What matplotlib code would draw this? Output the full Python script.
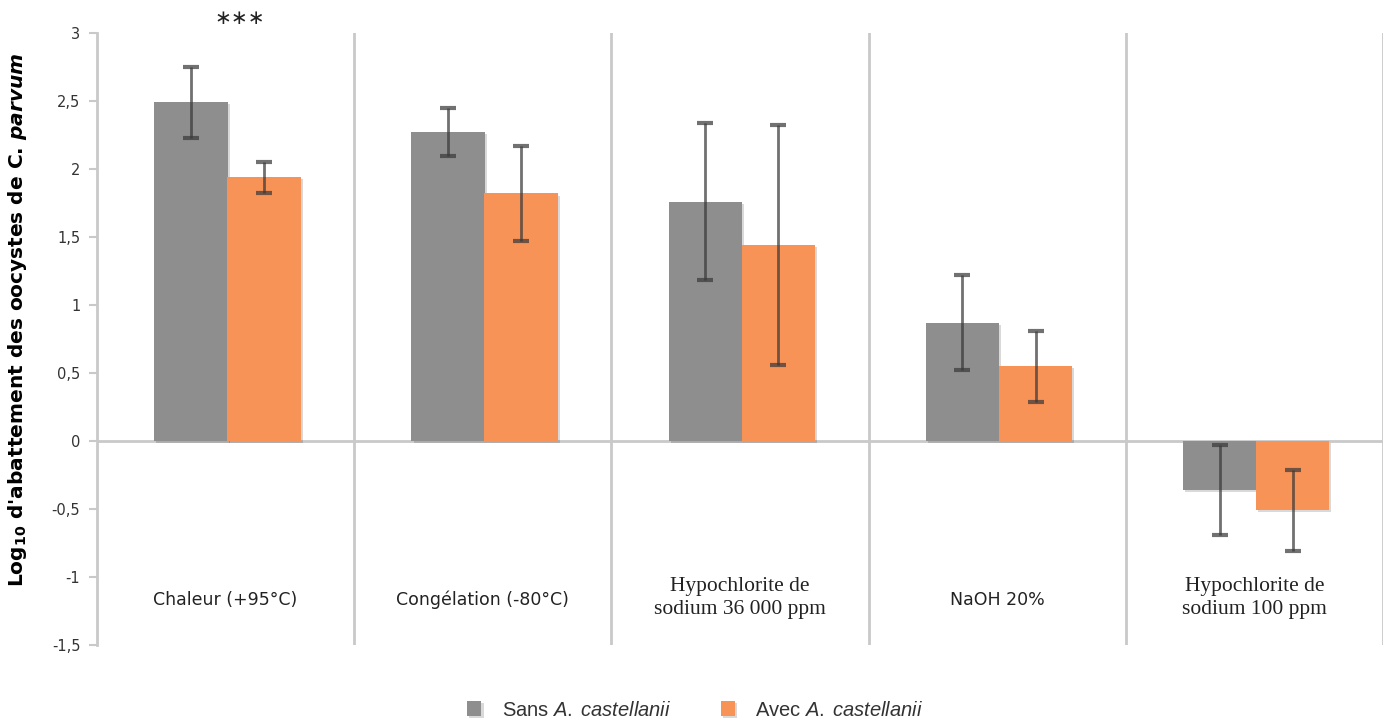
import matplotlib
matplotlib.use("Agg")
import matplotlib.pyplot as plt
import matplotlib.patheffects as pe
import numpy as np

plt.rcParams['mathtext.fontset'] = 'custom'
plt.rcParams['mathtext.rm'] = 'Liberation Sans'
plt.rcParams['mathtext.it'] = 'Liberation Sans:italic'
plt.rcParams['mathtext.bf'] = 'DejaVu Sans:bold'
plt.rcParams['mathtext.bfit'] = 'DejaVu Sans:italic:bold'

categories = ["Chaleur (+95°C)", "Congélation (-80°C)", "Hypochlorite de\nsodium 36 000 ppm",
              "NaOH 20%", "Hypochlorite de\nsodium 100 ppm"]
serif_labels = [False, False, True, False, True]
sans_vals = [2.49, 2.27, 1.76, 0.87, -0.36]
sans_err = [0.26, 0.175, 0.575, 0.35, 0.33]
avec_vals = [1.94, 1.82, 1.44, 0.55, -0.51]
avec_err = [0.115, 0.35, 0.88, 0.26, 0.30]
yticks = [3, 2.5, 2, 1.5, 1, 0.5, 0, -0.5, -1, -1.5]
ytick_labels = ["3", "2,5", "2", "1,5", "1", "0,5", "0", "-0,5", "-1", "-1,5"]

gray = "#8e8e8e"
orange = "#f79356"
grid = "#c9c9c9"

fig = plt.figure(figsize=(13.91, 7.21), dpi=100)
ax = fig.add_axes([97/1391, 1-645/721, (1383-97)/1391, (645-33)/721])

x = np.arange(len(categories))
w = 0.285
shadow = [pe.SimplePatchShadow(offset=(1.5, -1.5), shadow_rgbFace="#000000", alpha=0.15), pe.Normal()]
b1 = ax.bar(x - 0.135, sans_vals, w, color=gray, zorder=3, label="Sans $\\mathit{A.\\;castellanii}$")
b2 = ax.bar(x + 0.149, avec_vals, w, color=orange, zorder=3, label="Avec $\\mathit{A.\\;castellanii}$")
for b in list(b1) + list(b2):
    b.set_path_effects(shadow)
ekw = dict(fmt="none", ecolor="#3a3a3a", elinewidth=2.0, capsize=6, capthick=3, alpha=0.72, zorder=4)
ax.errorbar(x - 0.135, sans_vals, yerr=sans_err, **ekw)
ax.errorbar(x + 0.149, avec_vals, yerr=avec_err, **ekw)

ax.set_xlim(-0.5, 4.5)
ax.set_ylim(-1.5, 3)
for xv in np.arange(0.5, 5.0, 1.0):
    ax.axvline(xv, color=grid, lw=2, zorder=1)
ax.axhline(0, color=grid, lw=2, zorder=2)

for s in ["top", "right", "bottom"]:
    ax.spines[s].set_visible(False)
ax.spines["left"].set_color(grid)
ax.spines["left"].set_linewidth(2)
ax.set_yticks(yticks)
ax.set_yticklabels(ytick_labels, fontsize=10.5, color="#333333")
ax.tick_params(axis="y", length=6, width=1.5, color=grid, pad=6)
ax.set_xticks([])

for i, (lab, serif) in enumerate(zip(categories, serif_labels)):
    if serif:
        ax.text(i, -1.155, lab, ha="center", va="center", fontsize=15.5,
                family="Liberation Serif", color="#222222", linespacing=1.3)
    else:
        ax.text(i, -1.17, lab, ha="center", va="center", fontsize=12.5,
                family="DejaVu Sans", color="#222222")

ax.text(0.056, 3.11, "\u2217\u2217\u2217", ha="center", va="center", fontsize=14.5, family="DejaVu Sans",
        color="#222222", clip_on=False)

ax.set_ylabel(r"$\mathbf{Log_{10}}$ d'abattement des oocystes de C. $\mathbfit{parvum}$",
              fontsize=14.5, fontweight="bold")
ax.yaxis.set_label_coords(-0.053, 0.531)

leg = fig.legend(handles=[b1, b2], loc="center", bbox_to_anchor=(0.5, 1-710/721),
                 ncol=2, frameon=False, handlelength=0.7, handleheight=0.7,
                 columnspacing=2.5, handletextpad=1.0,
                 prop={"family": "Liberation Sans", "size": 14.5})
for t in leg.get_texts():
    t.set_color("#333333")

fig.savefig("out.png", dpi=100)
